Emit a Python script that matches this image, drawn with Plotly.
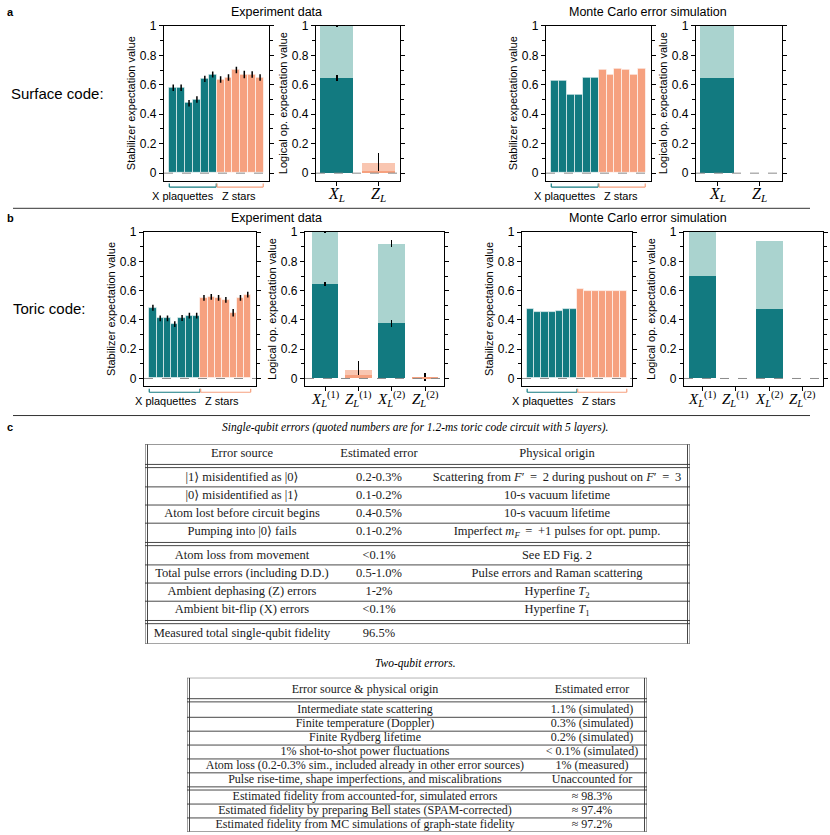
import plotly.graph_objects as go

W, H = 830, 835

TEAL = "#127a80"
TEAL_LT = "#aad3cf"
SALMON = "#f6a17f"
SALMON_LT = "#f9c6b1"
SANS = "Liberation Sans, Arial, sans-serif"
SERIF = "Liberation Serif, DejaVu Serif, serif"

# ---- a: surface code ----
surf_exp_xplaq = [0.58, 0.58, 0.475, 0.50, 0.64, 0.67]
surf_exp_xplaq_err = [0.022, 0.022, 0.022, 0.022, 0.022, 0.02]
surf_exp_zstar = [0.635, 0.65, 0.70, 0.67, 0.67, 0.65]
surf_exp_zstar_err = [0.022, 0.022, 0.022, 0.025, 0.022, 0.022]
surf_mc_xplaq = [0.63, 0.63, 0.53, 0.53, 0.645, 0.645]
surf_mc_zstar = [0.70, 0.665, 0.71, 0.70, 0.665, 0.71]

surf_ops = ["<i>X</i><sub><i>L</i></sub>", "<i>Z</i><sub><i>L</i></sub>"]
surf_kinds = ["X", "Z"]
surf_exp_raw = [0.645, 0.015]
surf_exp_raw_err = [0.02, 0.0]
surf_exp_corr = [1.0, 0.07]
surf_exp_corr_err = [0.005, 0.065]
surf_mc_raw = [0.65, 0.0]
surf_mc_corr = [1.0, 0.0]

# ---- b: toric code ----
toric_exp_xplaq = [0.483, 0.411, 0.411, 0.371, 0.413, 0.429, 0.429]
toric_exp_xplaq_err = [0.02, 0.02, 0.02, 0.02, 0.02, 0.02, 0.02]
toric_exp_zstar = [0.551, 0.557, 0.551, 0.537, 0.449, 0.551, 0.573]
toric_exp_zstar_err = [0.02, 0.02, 0.02, 0.02, 0.025, 0.02, 0.02]
toric_mc_xplaq = [0.476, 0.452, 0.452, 0.452, 0.461, 0.476, 0.476]
toric_mc_zstar = [0.611, 0.598, 0.598, 0.598, 0.598, 0.598, 0.598]

toric_ops = ["<i>X</i><sub><i>L</i></sub><sup>(1)</sup>", "<i>Z</i><sub><i>L</i></sub><sup>(1)</sup>",
             "<i>X</i><sub><i>L</i></sub><sup>(2)</sup>", "<i>Z</i><sub><i>L</i></sub><sup>(2)</sup>"]
toric_kinds = ["X", "Z", "X", "Z"]
toric_exp_raw = [0.645, 0.02, 0.375, 0.005]
toric_exp_raw_err = [0.015, 0.0, 0.025, 0.0]
toric_exp_corr = [1.0, 0.06, 0.92, 0.01]
toric_exp_corr_err = [0.005, 0.058, 0.025, 0.025]
toric_mc_raw = [0.70, 0.0, 0.472, 0.0]
toric_mc_corr = [1.0, 0.0, 0.937, 0.0]

# ---- c: error budget tables ----
caption1 = "Single-qubit errors (quoted numbers are for 1.2-ms toric code circuit with 5 layers)."
t1_source = ["Error source", "|1⟩ misidentified as |0⟩", "|0⟩ misidentified as |1⟩",
             "Atom lost before circuit begins", "Pumping into |0⟩ fails", "Atom loss from movement",
             "Total pulse errors (including D.D.)", "Ambient dephasing (Z) errors",
             "Ambient bit-flip (X) errors", "Measured total single-qubit fidelity"]
t1_error = ["Estimated error", "0.2-0.3%", "0.1-0.2%", "0.4-0.5%", "0.1-0.2%", "&lt;0.1%",
            "0.5-1.0%", "1-2%", "&lt;0.1%", "96.5%"]
t1_origin = ["Physical origin",
             "Scattering from <i>F</i>′ \u2009=\u2009 2 during pushout on <i>F</i>′ \u2009=\u2009 3",
             "10-s vacuum lifetime", "10-s vacuum lifetime",
             "Imperfect <i>m<sub>F</sub></i> \u2009=\u2009 +1 pulses for opt. pump.", "See ED Fig. 2",
             "Pulse errors and Raman scattering", "Hyperfine <i>T</i><sub>2</sub>",
             "Hyperfine <i>T</i><sub>1</sub>", ""]
t1_groups = [1, 4, 4, 1]

caption2 = "Two-qubit errors."
t2_source = ["Error source &amp; physical origin", "Intermediate state scattering",
             "Finite temperature (Doppler)", "Finite Rydberg lifetime",
             "1% shot-to-shot power fluctuations",
             "Atom loss (0.2-0.3% sim., included already in other error sources)",
             "Pulse rise-time, shape imperfections, and miscalibrations",
             "Estimated fidelity from accounted-for, simulated errors",
             "Estimated fidelity by preparing Bell states (SPAM-corrected)",
             "Estimated fidelity from MC simulations of graph-state fidelity"]
t2_error = ["Estimated error", "1.1% (simulated)", "0.3% (simulated)", "0.2% (simulated)",
            "&lt; 0.1% (simulated)", "1% (measured)", "Unaccounted for", "≈ 98.3%", "≈ 97.4%", "≈ 97.2%"]
t2_groups = [1, 6, 3]


def xd(a, b):
    return [a / W, b / W]


def yd(top, bottom):
    return [1 - bottom / H, 1 - top / H]


def ax(k):
    return "" if k == 1 else str(k)


fig = go.Figure()
shapes = []
annotations = []
layout_axes = {}


def frame_axes(k, xdom, ydom, xrange, ytitle, ticklabels=None, label_size=16):
    xa = dict(domain=xd(*xdom), range=xrange, anchor="y" + ax(k), showline=True, linecolor="black",
              linewidth=1.2, mirror=True, showgrid=False, zeroline=False, fixedrange=True,
              showticklabels=False)
    if ticklabels:
        xa.update(tickvals=list(range(1, len(ticklabels) + 1)), ticks="outside",
                  ticklen=4, tickwidth=1.2, tickcolor="black")
        for i, lab in enumerate(ticklabels):
            annotations.append(dict(text=lab, xref="x" + ax(k), yref="y%s domain" % ax(k), x=i + 1, y=-0.088,
                                    xanchor="center", yanchor="middle", showarrow=False,
                                    font=dict(family=SERIF, size=label_size, color="black")))
    else:
        xa.update(ticks="")
    ya = dict(domain=yd(*ydom), range=[-0.05, 1], anchor="x" + ax(k),
              tickvals=[0, 0.2, 0.4, 0.6, 0.8, 1], ticktext=["0", "0.2", "0.4", "0.6", "0.8", "1"],
              ticks="outside", ticklen=4, tickwidth=1.2, tickcolor="black",
              minor=dict(tick0=0, dtick=0.1, ticks="outside", ticklen=2.5, tickwidth=1, tickcolor="black"),
              showline=True, linecolor="black", linewidth=1.2, mirror="allticks", showgrid=False,
              zeroline=False, fixedrange=True,
              tickfont=dict(family=SANS, size=12, color="black"),
              title=dict(text=ytitle, font=dict(family=SANS, size=11, color="black"), standoff=1))
    layout_axes["xaxis" + ax(k)] = xa
    layout_axes["yaxis" + ax(k)] = ya
    shapes.append(dict(type="line", xref="x%s domain" % ax(k), yref="y" + ax(k), x0=0, x1=1, y0=0, y1=0,
                       line=dict(color="#8a8a8a", width=1, dash="dash"), layer="above"))


def add_stab(k, xdom, ydom, xplaq, zstar, xerr=None, zerr=None):
    n = len(xplaq)
    frame_axes(k, xdom, ydom, [-0.17 - 0.05 * (n - 6), 2 * n + 1.13], "Stabilizer expectation value")
    groups = [(list(range(1, n + 1)), xplaq, xerr, TEAL), (list(range(n + 1, 2 * n + 1)), zstar, zerr, SALMON)]
    for pos, vals, err, col in groups:
        fig.add_trace(go.Bar(
            x=pos, y=vals, width=1, xaxis="x" + ax(k), yaxis="y" + ax(k), showlegend=False,
            marker=dict(color=col, line=dict(color="rgba(255,255,255,0.6)", width=1)),
            error_y=dict(type="data", array=err if err else [0] * n, visible=err is not None,
                         color="black", thickness=1.5, width=0)))
    # group brackets and labels
    for lo, hi, col in ((0.5, n + 0.45, TEAL), (n + 0.55, 2 * n + 0.4, SALMON)):
        for x0, x1, y0, y1 in ((lo, hi, -0.042, -0.042), (lo, lo, -0.042, -0.019), (hi, hi, -0.042, -0.019)):
            shapes.append(dict(type="line", xref="x" + ax(k), yref="y%s domain" % ax(k),
                               x0=x0, x1=x1, y0=y0, y1=y1, line=dict(color=col, width=1.2)))
    for txt, anchor, shift in (("X plaquettes", "right", -1), ("Z stars", "left", 3)):
        annotations.append(dict(text=txt, xref="x" + ax(k), yref="y%s domain" % ax(k), x=n + 0.5, y=-0.1,
                                xanchor=anchor, yanchor="middle", xshift=shift, showarrow=False,
                                font=dict(family=SANS, size=11, color="black")))


def add_log(k, xdom, ydom, xrange, labels, kinds, raw, corr, raw_err=None, corr_err=None, label_size=16):
    frame_axes(k, xdom, ydom, xrange, "Logical op. expectation value", labels, label_size)
    pos = list(range(1, len(labels) + 1))
    light = [TEAL_LT if c == "X" else SALMON_LT for c in kinds]
    dark = [TEAL if c == "X" else SALMON for c in kinds]
    for vals, err, cols in ((corr, corr_err, light), (raw, raw_err, dark)):
        fig.add_trace(go.Bar(
            x=pos, y=vals, width=0.8, xaxis="x" + ax(k), yaxis="y" + ax(k), showlegend=False,
            marker=dict(color=cols, line=dict(width=0)),
            error_y=dict(type="data", array=err if err else [0] * len(pos), visible=err is not None,
                         color="black", thickness=1.5, width=0)))


add_stab(1, (164, 269), (19, 175), surf_exp_xplaq, surf_exp_zstar, surf_exp_xplaq_err, surf_exp_zstar_err)
add_log(2, (316, 400), (19, 175), [0.5, 2.52], surf_ops, surf_kinds, surf_exp_raw, surf_exp_corr,
        surf_exp_raw_err, surf_exp_corr_err)
add_stab(3, (546, 651), (19, 175), surf_mc_xplaq, surf_mc_zstar)
add_log(4, (696, 782), (19, 175), [0.5, 2.54], surf_ops, surf_kinds, surf_mc_raw, surf_mc_corr)

add_stab(5, (144, 256), (227, 382), toric_exp_xplaq, toric_exp_zstar, toric_exp_xplaq_err, toric_exp_zstar_err)
add_log(6, (305, 444), (227, 382), [0.4, 4.57], toric_ops, toric_kinds, toric_exp_raw, toric_exp_corr,
        toric_exp_raw_err, toric_exp_corr_err, label_size=15)
add_stab(7, (522, 632), (227, 382), toric_mc_xplaq, toric_mc_zstar)
add_log(8, (684, 823), (227, 382), [0.45, 4.6], toric_ops, toric_kinds, toric_mc_raw, toric_mc_corr,
        label_size=15)


def add_table(k, left, right, top_row_px, pitch, gaps, groups, cols, col_x, font_size, pad_top, pad_bot):
    # row positions in row units, with extra space between groups
    pos, y = [], 0.0
    for g, n in enumerate(groups):
        for _ in range(n):
            pos.append(y)
            y += 1
        if g < len(gaps):
            y += gaps[g]
    y_top, y_bot = -pad_top, pos[-1] + pad_bot
    top_px = top_row_px - pad_top * pitch
    bot_px = top_row_px + y_bot * pitch
    width = right - left
    layout_axes["xaxis" + ax(k)] = dict(domain=xd(left, right), range=[0, width], visible=False,
                                        anchor="y" + ax(k), fixedrange=True)
    layout_axes["yaxis" + ax(k)] = dict(domain=yd(top_px, bot_px), range=[y_bot, y_top], visible=False,
                                        anchor="x" + ax(k), fixedrange=True)
    for texts, cx in zip(cols, col_x):
        fig.add_trace(go.Scatter(x=[cx] * len(texts), y=pos, text=texts, mode="text",
                                 textposition="middle center", cliponaxis=False, showlegend=False,
                                 hoverinfo="skip", xaxis="x" + ax(k), yaxis="y" + ax(k),
                                 textfont=dict(family=SERIF, size=font_size, color="#1a1a1a")))
    lc = dict(color="#333333", width=0.9)
    hl = []
    idx = 0
    starts = []
    for n in groups:
        starts.append(idx)
        idx += n
    for g, n in enumerate(groups):
        s = starts[g]
        for i in range(s, s + n - 1):
            hl.append((pos[i] + pos[i + 1]) / 2)
        if g < len(groups) - 1:
            mid = (pos[s + n - 1] + pos[s + n]) / 2
            d = 1.6 / pitch
            hl += [mid - d, mid + d]
    hl += [y_top, y_bot]
    for yy in hl:
        shapes.append(dict(type="line", xref="x" + ax(k), yref="y" + ax(k), x0=0, x1=width, y0=yy, y1=yy,
                           line=lc))
    for xx in (0, 2.5, width - 2.5, width):
        shapes.append(dict(type="line", xref="x" + ax(k), yref="y" + ax(k), x0=xx, x1=xx, y0=y_top, y1=y_bot,
                           line=lc))


add_table(9, 145, 690, 451, 18.3, [0.3, 0.3, 0.3], t1_groups, [t1_source, t1_error, t1_origin],
          [97, 234, 412], 12.5, 0.55, 0.55)
add_table(10, 187, 647, 689, 14, [0.45, 0.25], t2_groups, [t2_source, t2_error],
          [178, 405], 12, 0.9, 0.5)


def text_px(txt, x, y, size, family=SANS, xanchor="center", bold=False):
    annotations.append(dict(text="<b>%s</b>" % txt if bold else txt, xref="paper", yref="paper",
                            x=x / W, y=1 - y / H, xanchor=xanchor, yanchor="middle", showarrow=False,
                            font=dict(family=family, size=size, color="black")))


text_px("a", 5, 5, 11, xanchor="left", bold=True)
text_px("b", 5, 213, 11, xanchor="left", bold=True)
text_px("c", 5, 424, 11, xanchor="left", bold=True)
text_px("Experiment data", 276, 5, 12.5)
text_px("Monte Carlo error simulation", 648, 5, 12.5)
text_px("Experiment data", 276, 213, 12.5)
text_px("Monte Carlo error simulation", 648, 213, 12.5)
text_px("Surface code:", 9, 87, 15, xanchor="left")
text_px("Toric code:", 11, 304, 15, xanchor="left")
text_px("<i>%s</i>" % caption1, 415, 424, 11.5, family=SERIF)
text_px("<i>%s</i>" % caption2, 415, 662, 11.5, family=SERIF)

for yy in (203, 412):
    shapes.append(dict(type="line", xref="paper", yref="paper", x0=13 / W, x1=810 / W,
                       y0=1 - yy / H, y1=1 - yy / H, line=dict(color="#333333", width=1)))

fig.update_layout(
    width=W, height=H, margin=dict(l=0, r=0, t=0, b=0), autosize=False,
    paper_bgcolor="white", plot_bgcolor="white", barmode="overlay", bargap=0,
    showlegend=False, shapes=shapes, annotations=annotations,
    font=dict(family=SANS, color="black"),
    **layout_axes,
)

fig.write_html("out.html", config={"displayModeBar": False},
               post_script="document.body.style.margin = '0px';")
